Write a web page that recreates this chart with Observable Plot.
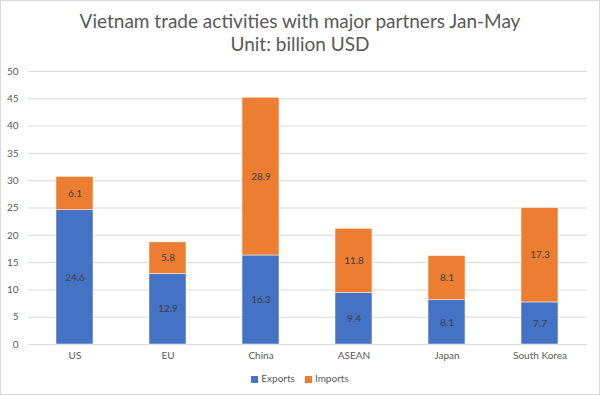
<!DOCTYPE html>
<html>
<head>
<meta charset="utf-8">
<script src="https://cdn.jsdelivr.net/npm/d3@7"></script>
<script src="https://cdn.jsdelivr.net/npm/@observablehq/plot@0.6"></script>
<style>
  html, body { margin: 0; padding: 0; background: #fff; }
  #frame { width: 598px; height: 393px; border: 1px solid #d9d9d9; position: relative; font-family: Lato, "Open Sans", sans-serif; overflow: hidden; }
  #title { height: 59px; text-align: center; color: #595959; font-size: 19px; line-height: 23px; padding-top: 8px; box-sizing: border-box; }
  #legend { display: flex; justify-content: center; gap: 10px; font-size: 10px; color: #595959; margin-top: 6px; }
  #legend span.sw { display: inline-block; width: 7px; height: 7px; margin-right: 3px; vertical-align: middle; }
  svg { display: block; }
</style>
</head>
<body>
<div id="frame">
  <div id="title">Vietnam trade activities with major partners Jan-May<br>Unit: billion USD</div>
  <div id="chart"></div>
  <div id="legend"></div>
</div>
<script>
const partners = ["US", "EU", "China", "ASEAN", "Japan", "South Korea"];
const exportsVals = [24.6, 12.9, 16.3, 9.4, 8.1, 7.7];
const importsVals = [6.1, 5.8, 28.9, 11.8, 8.1, 17.3];
const seriesNames = ["Exports", "Imports"];
const seriesColors = ["#4472C4", "#ED7D31"];
const yTicks = [0, 5, 10, 15, 20, 25, 30, 35, 40, 45, 50];

const data = [];
partners.forEach((p, i) => {
  data.push({partner: p, type: "Exports", value: exportsVals[i]});
  data.push({partner: p, type: "Imports", value: importsVals[i]});
});

const chart = Plot.plot({
  width: 598,
  height: 306,
  marginTop: 11,
  marginLeft: 27,
  marginRight: 12,
  marginBottom: 22,
  style: {fontFamily: "Lato, 'Open Sans', sans-serif", fontSize: "10px", color: "#595959", background: "#fff"},
  x: {domain: partners, paddingInner: 0.6, paddingOuter: 0.3, label: null, tickSize: 0, tickPadding: 7},
  y: {domain: [0, 50], ticks: yTicks, label: null, tickSize: 0, tickPadding: 10},
  color: {domain: seriesNames, range: seriesColors},
  marks: [
    Plot.ruleY(yTicks, {stroke: "#d9d9d9", strokeWidth: 1}),
    Plot.barY(data, {x: "partner", y: "value", fill: "type", stroke: "white", strokeWidth: 0.5}),
    Plot.text(data, Plot.stackY({x: "partner", y: "value", text: d => d.value.toFixed(1), fill: "#404040", fontSize: 10}))
  ]
});
document.getElementById("chart").appendChild(chart);

const legend = document.getElementById("legend");
seriesNames.forEach((n, i) => {
  const item = document.createElement("div");
  item.innerHTML = `<span class="sw" style="background:${seriesColors[i]}"></span>${n}`;
  legend.appendChild(item);
});
</script>
</body>
</html>
